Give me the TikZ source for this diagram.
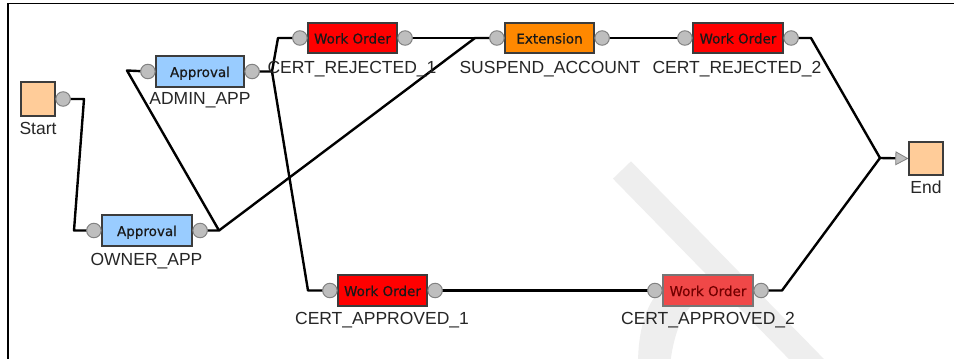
\documentclass[tikz,border=0pt]{standalone}
\usepackage{fontspec}
\setmainfont{Liberation Sans}
\newfontface\boxfont{DejaVu Sans}[FakeBold=0.5]
\usetikzlibrary{arrows.meta}
\definecolor{peach}{RGB}{255,204,153}
\definecolor{appblue}{RGB}{153,204,255}
\definecolor{wored}{RGB}{255,0,0}
\definecolor{wolight}{RGB}{240,72,72}
\definecolor{extorange}{RGB}{255,136,0}
\definecolor{portgray}{RGB}{190,190,190}
\definecolor{portedge}{RGB}{130,130,130}
\definecolor{boxedge}{RGB}{60,60,60}
\definecolor{wm}{RGB}{238,238,238}
\pgfdeclarelayer{bg}
\pgfdeclarelayer{wires}
\pgfsetlayers{bg,wires,main}
\begin{document}
\begin{tikzpicture}[x=1pt,y=-1pt,
  task/.style={draw=boxedge, line width=1.2pt, minimum width=89pt, minimum height=31pt,
    inner sep=0pt, text height=11pt, text depth=0pt,
    font=\boxfont\fontsize{13.5}{13.5}\selectfont, text=black!90},
  term/.style={draw=boxedge, line width=1.2pt, fill=peach, minimum width=34pt,
    minimum height=34pt, inner sep=0pt},
  port/.style={circle, draw=portedge, fill=portgray, line width=1pt,
    minimum size=14.5pt, inner sep=0pt},
  lbl/.style={font=\fontsize{17.5}{17.5}\selectfont, text=black!85, inner sep=0pt, anchor=base},
  wire/.style={draw=black, line width=2.4pt, line join=round},
]
\useasboundingbox (0,0) rectangle (954,359);

% terminals
\node[term] (start) at (38,99) {};
\node[term, minimum height=33pt] (end) at (926,158.5) {};

% tasks
\node[task, fill=appblue, minimum width=88pt] (admin) at (200,71.5) {Approval};
\node[task, fill=appblue, minimum width=90pt] (owner) at (147,230.5) {Approval};
\node[task, fill=wored, minimum height=30pt] (cr1) at (352.5,38) {Work Order};
\node[task, fill=extorange, minimum height=30pt] (susp) at (549.5,38) {Extension};
\node[task, fill=wored, minimum height=30pt, minimum width=90pt] (cr2) at (738,38) {Work Order};
\node[task, fill=wored] (ca1) at (382.5,290.5) {Work Order};
\node[task, fill=wolight, minimum width=90pt, draw=boxedge!70, text=black!55!red] (ca2) at (708,290.5) {Work Order};

% ports
\node[port] (start-out) at ([xshift=7.5pt]start.east) {};
\foreach \n in {admin,owner,cr1,susp,cr2,ca1,ca2}{
  \node[port] (\n-in) at ([xshift=-7.5pt]\n.west) {};
  \node[port] (\n-out) at ([xshift=7.5pt]\n.east) {};
}

% labels
\node[lbl] (start-l) at (38,134) {Start};
\node[lbl] (end-l) at (926,193) {End};
\node[lbl] (admin-l) at (200,104) {ADMIN\_APP};
\node[lbl] (owner-l) at (146.5,265) {OWNER\_APP};
\node[lbl] (cr1-l) at (352,73) {CERT\_REJECTED\_1};
\node[lbl] (susp-l) at (550,73) {SUSPEND\_ACCOUNT};
\node[lbl] (cr2-l) at (737,73) {CERT\_REJECTED\_2};
\node[lbl] (ca1-l) at (382,324) {CERT\_APPROVED\_1};
\node[lbl] (ca2-l) at (708,324) {CERT\_APPROVED\_2};

% background, frame and watermark
\begin{pgfonlayer}{bg}
\fill[white] (0,0) rectangle (954,359);
\begin{scope}
\clip (0,0) rectangle (954,359);
\fill[wm] (613,178.7) -- (631,161.3) -- (831,366.3) -- (813,383.7) -- cycle;
\fill[wm] (638,365) .. controls (638,330) and (646,300) .. (668,282)
  -- (707.5,276) -- (731,300) -- (700,300) .. controls (685,306) and (674,330) .. (670,365) -- cycle;
\end{scope}
\draw[line width=1.5pt] (8,360) -- (8,3.5) -- (954,3.5);
\end{pgfonlayer}

% connectors
\coordinate (s1) at (84,99);
\coordinate (s2) at (74,230.5);
\coordinate (j1) at (219,230.5);
\coordinate (a0) at (127,70.5);
\coordinate (j2) at (475,38);
\coordinate (j3) at (272,71.5);
\coordinate (r1) at (278,38);
\coordinate (p1) at (308,290.5);
\coordinate (r2) at (811,38);
\coordinate (j4) at (880,158);
\coordinate (p2) at (782,290.5);
\begin{pgfonlayer}{wires}
\draw[wire] (start-out.center) -- (s1) -- (s2) -- (owner-in.center);
\draw[wire] (owner-out.center) -- (j1) -- (a0) -- (admin-in.center);
\draw[wire] (j1) -- (j2) -- (susp-in.center);
\draw[wire] (cr1-out.center) -- (j2);
\draw[wire] (admin-out.center) -- (j3) -- (r1) -- (cr1-in.center);
\draw[wire] (j3) -- (p1) -- (ca1-in.center);
\draw[wire] (susp-out.center) -- (cr2-in.center);
\draw[wire] (cr2-out.center) -- (r2) -- (j4);
\draw[wire] (ca1-out.center) -- (ca2-in.center);
\draw[wire] (ca2-out.center) -- (p2) -- (j4);
\draw[wire, -{Triangle[length=13pt,width=14pt,fill=portgray,color=portedge,line width=0.8pt]}] (j4) -- (end.west);
\end{pgfonlayer}
\end{tikzpicture}
\end{document}
